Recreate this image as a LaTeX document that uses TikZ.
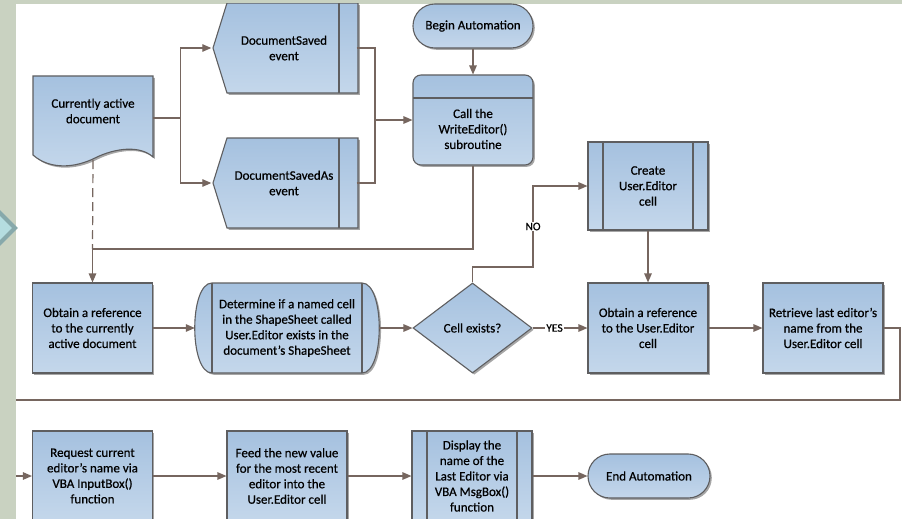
\documentclass[tikz,border=0pt]{standalone}
\usepackage{fontspec}
\setmainfont{Carlito}
\newfontfamily\flowfont{Carlito}[FakeBold=0.6]
\usetikzlibrary{arrows.meta,shapes.geometric,shadows}

\definecolor{boxtop}{HTML}{A5C1DF}
\definecolor{boxbot}{HTML}{C4D7EB}
\definecolor{edge}{HTML}{5E5E60}
\definecolor{wire}{HTML}{76665F}
\definecolor{margin}{HTML}{C9D2C1}
\definecolor{chevfill}{HTML}{B5DDE0}
\definecolor{chevedge}{HTML}{87A9AB}

\begin{document}
\begin{tikzpicture}[
		x=1pt, y=-1pt,
		font=\flowfont\fontsize{13}{15.5}\selectfont,
		blockfill/.style={draw=edge, line width=1.1pt, top color=boxtop, bottom color=boxbot,
			drop shadow={shadow xshift=1.8pt, shadow yshift=-1.8pt, fill=black, opacity=0.35}},
		proc/.style={blockfill, rectangle, minimum width=120pt, minimum height=90pt, inner sep=2pt, align=center},
		subproc/.style={proc, path picture={
				\draw[edge, line width=1.1pt] ([xshift=15pt]path picture bounding box.north west) -- ([xshift=15pt]path picture bounding box.south west);
				\draw[edge, line width=1.1pt] ([xshift=-15pt]path picture bounding box.north east) -- ([xshift=-15pt]path picture bounding box.south east);
			}},
		term/.style={blockfill, rectangle, rounded corners=21.9pt, minimum width=120pt, minimum height=44pt, align=center},
		decide/.style={blockfill, diamond, minimum width=119pt, minimum height=90pt, inner sep=0pt, align=center},
		hole/.style={inner sep=0pt, align=center},
		txt/.style={inner sep=0pt, align=center},
		link/.style={draw=wire, line width=1.2pt},
		flow/.style={link, -{Triangle[length=9pt, width=7.5pt]}},
		lbl/.style={fill=white, inner sep=1pt, font=\flowfont\fontsize{11.5}{13}\selectfont},
		]
		%background
		\fill[margin] (0,0) rectangle (902,519);
		\fill[white] (16,4) rectangle (902,519);
		\useasboundingbox (0,0) rectangle (902,519);
		\filldraw[fill=chevfill, draw=chevedge, line width=4pt, line join=miter] (15,228) -- (-10,203) -- (-35,228) -- (-10,253) -- cycle;
		
		\begin{scope}
			\clip (16,4) rectangle (902,519);
			
			%shapes
			\draw[blockfill] (33,76) -- (153,76) -- (153,157) .. controls (140,145) and (115,148) .. (95,158) .. controls (75,168) and (50,170) .. (33,155) -- cycle;
			\draw[blockfill] (227,3) -- (358,3) -- (358,93) -- (227,93) -- (213,48) -- cycle;
			\draw[edge, line width=1.1pt] (339,3) -- (339,93);
			\draw[blockfill] (227,138) -- (358,138) -- (358,228) -- (227,228) -- (213,183) -- cycle;
			\draw[edge, line width=1.1pt] (339,138) -- (339,228);
			\draw[blockfill] (212,283) -- (362,283) .. controls (385,283) and (385,373) .. (362,373) -- (212,373) .. controls (189,373) and (189,283) .. (212,283) -- cycle;
			\draw[edge, line width=1.1pt] (212,283) -- (212,373);
			\draw[edge, line width=1.1pt] (362,283) -- (362,373);
			
			%boxes
			\node[hole, minimum width=120pt, minimum height=84pt] (doc) at (93,118) {};
			\node[txt] (doc-t) at (93,111) {Currently active\\document};
			\node[hole, minimum width=145pt, minimum height=90pt] (saved) at (284,48) {DocumentSaved\\event};
			\node[hole, minimum width=145pt, minimum height=90pt] (savedas) at (284,183) {DocumentSavedAs\\event};
			\node[term] (begin) at (473,26) {Begin Automation};
			\node[proc, rounded corners=8pt, path picture={
					\draw[edge, line width=1.1pt] ([yshift=-23pt]path picture bounding box.north west) -- ([yshift=-23pt]path picture bounding box.north east);
				}] (call) at (473,120) {};
			\node[txt] (call-t) at (473,129) {Call the\\WriteEditor()\\subroutine};
			
			\node[proc] (obtaindoc) at (92.5,328) {Obtain a reference\\to the currently\\active document};
			\node[hole, minimum width=184pt, minimum height=90pt] (determine) at (287,328) {Determine if a named cell\\in the ShapeSheet called\\User.Editor exists in the\\document’s ShapeSheet};
			\node[decide] (exists) at (472.5,328) {Cell exists?};
			\node[subproc, minimum height=88pt] (create) at (648,186) {Create\\User.Editor\\cell};
			\node[proc] (obtaincell) at (648,328) {Obtain a reference\\to the User.Editor\\cell};
			\node[proc] (retrieve) at (823,328) {Retrieve last editor’s\\name from the\\User.Editor cell};
			
			\node[proc] (request) at (92.5,476) {Request current\\editor’s name via\\VBA InputBox()\\function};
			\node[proc] (feed) at (287,476) {Feed the new value\\for the most recent\\editor into the\\User.Editor cell};
			\node[subproc] (display) at (472,476) {Display the\\name of the\\Last Editor via\\VBA MsgBox()\\function};
			\node[term, minimum width=122pt] (endauto) at (649,476) {End Automation};
			
			%arrows
			\draw[link] (doc.east) -- ++(27,0) coordinate (split);
			\draw[flow] (split) |- (saved.west);
			\draw[flow] (split) |- (savedas.west);
			\coordinate (join) at (375,120);
			\draw[link] (saved.east) -| (join);
			\draw[link] (savedas.east) -| (join);
			\draw[flow] (join) -- (call.west);
			\draw[flow] (begin.south) -- (call.north);
			
			\coordinate (bend) at (92.5,249);
			\draw[flow] (call.south) |- (bend) -- (obtaindoc.north);
			\draw[link, dash pattern=on 9pt off 5pt] (doc.south) -- (bend);
			
			\draw[flow] (obtaindoc.east) -- (determine.west);
			\draw[flow] (determine.east) -- (exists.west);
			\draw[flow] (exists.east) -- node[lbl, pos=0.4] (yes) {YES} (obtaincell.west);
			\coordinate (nobend) at (533,267);
			\draw[flow] (exists.north) |- (nobend) -- node[lbl, pos=0.5] (no) {NO} (nobend |- create.west) -- (create.west);
			\draw[flow] (create.south) -- (obtaincell.north);
			\draw[flow] (obtaincell.east) -- (retrieve.west);
			
			\coordinate (wrapR) at (900,400);
			\coordinate (wrapL) at (4,400);
			\draw[flow] (retrieve.east) -| (wrapR) -- (wrapL) |- (request.west);
			\draw[flow] (request.east) -- (feed.west);
			\draw[flow] (feed.east) -- (display.west);
			\draw[flow] (display.east) -- (endauto.west);
		\end{scope}
	\end{tikzpicture}
\end{document}
